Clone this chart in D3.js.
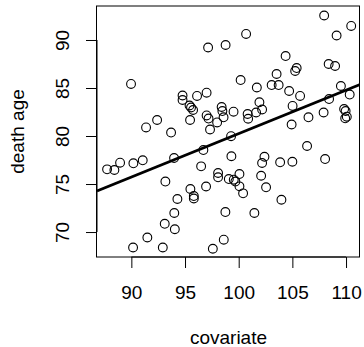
<!DOCTYPE html>
<html>
<head>
<meta charset="utf-8">
<script src="https://cdn.jsdelivr.net/npm/d3@7"></script>
<style>
  html, body { margin: 0; padding: 0; background: #fff; }
  svg { display: block; font-family: "Liberation Sans", Arial, Helvetica, sans-serif; }
  text { fill: #000; }
</style>
</head>
<body>
<svg id="chart"></svg>
<script>

var width = 364,
    height = 347,
    margin = {top: 6, right: 4, bottom: 90, left: 97};

var covariate = [
  89.97, 94.77, 94.77, 96.12, 97.01, 95.42, 95.56, 95.75, 95.47, 92.40,
  91.37, 93.70, 97.01, 97.19, 97.33, 97.99, 97.15, 98.78, 100.69, 100.18,
  101.69, 103.07, 103.72, 103.53, 104.37, 105.40, 105.26, 104.70, 105.72, 105.02,
  106.50, 104.93, 106.37, 107.96, 109.12, 110.48, 108.38, 108.98, 109.52, 110.34,
  108.42, 107.91, 109.82, 109.96, 109.92, 110.07, 98.41, 98.48, 98.59, 99.52,
  100.83, 100.88, 101.62, 101.93, 102.18, 99.29, 96.71, 99.32, 102.40, 102.18,
  96.50, 98.08, 98.08, 100.07, 102.09, 99.08, 99.54, 99.69, 100.07, 100.41,
  102.55, 95.50, 96.96, 95.82, 95.82, 98.76, 101.46, 98.61, 97.59, 103.86,
  105.00, 108.05, 103.98, 87.74, 88.42, 88.95, 90.19, 91.06, 93.98, 93.17,
  94.29, 94.00, 93.11, 94.05, 91.49, 90.16, 92.93
];

var deathAge = [
  85.42, 84.22, 83.75, 84.17, 84.51, 83.18, 82.97, 82.71, 81.67, 81.67,
  80.89, 80.36, 82.14, 81.82, 80.68, 81.41, 89.22, 89.48, 90.63, 85.83,
  85.05, 85.31, 85.31, 86.46, 88.33, 87.08, 86.77, 84.69, 84.17, 83.13,
  81.95, 81.20, 78.96, 92.55, 90.47, 91.46, 87.50, 87.29, 85.21, 84.32,
  83.85, 82.45, 82.81, 82.60, 81.84, 82.01, 83.02, 82.60, 81.95, 82.53,
  82.29, 81.80, 82.45, 83.51, 82.76, 79.98, 78.54, 77.89, 77.84, 77.19,
  76.84, 76.15, 75.70, 76.04, 75.86, 75.52, 75.45, 75.26, 74.76, 74.03,
  74.66, 74.48, 74.74, 73.75, 73.49, 72.08, 71.98, 69.20, 68.26, 77.26,
  77.32, 77.60, 73.36, 76.53, 76.46, 77.22, 77.16, 77.47, 77.71, 75.26,
  73.44, 71.98, 70.86, 70.29, 69.43, 68.39, 68.39
];

// fitted line: deathAge = a + b * covariate
var fitIntercept = 35.0,
    fitSlope = 0.4525;

var xLim = [86.8, 111.3],
    yLim = [67.4, 93.54];

var xTicks = [90, 95, 100, 105, 110],
    yTicks = [70, 75, 80, 85, 90];

var xLabel = 'covariate',
    yLabel = 'death age';

var points = covariate.map(function(d, i) { return {x: d, y: deathAge[i]}; });

var svg = d3.select('#chart')
    .attr('width', width)
    .attr('height', height);

var x = d3.scaleLinear()
    .domain(xLim)
    .range([margin.left, width - margin.right]);

var y = d3.scaleLinear()
    .domain(yLim)
    .range([height - margin.bottom, margin.top]);

var lineH = 22.8;

// axes
var xAxis = svg.append('g')
    .attr('transform', 'translate(0,' + (height - margin.bottom) + ')')
    .call(d3.axisBottom(x).tickValues(xTicks).tickSize(11).tickPadding(0).tickSizeOuter(0));

xAxis.select('.domain')
    .attr('d', 'M' + x(xTicks[0]) + ',0H' + x(xTicks[xTicks.length - 1]));

xAxis.selectAll('.tick text')
    .attr('y', 1.8 * lineH + 1)
    .attr('dy', null)
    .attr('font-size', 19)
    .attr('font-family', null);

var yAxis = svg.append('g')
    .attr('transform', 'translate(' + margin.left + ',0)')
    .call(d3.axisLeft(y).tickValues(yTicks).tickSize(11).tickPadding(0).tickSizeOuter(0));

yAxis.select('.domain')
    .attr('d', 'M0,' + y(yTicks[0]) + 'V' + y(yTicks[yTicks.length - 1]));

yAxis.selectAll('.tick text')
    .attr('x', null)
    .attr('dy', null)
    .attr('transform', 'translate(' + (-1.2 * lineH - 1) + ',0) rotate(-90)')
    .attr('text-anchor', 'middle')
    .attr('font-size', 19)
    .attr('font-family', null);

svg.selectAll('.domain, .tick line')
    .attr('stroke', '#000')
    .attr('stroke-width', 1);

// box
svg.append('rect')
    .attr('x', margin.left - 0.5)
    .attr('y', margin.top)
    .attr('width', width - margin.left - margin.right)
    .attr('height', height - margin.top - margin.bottom)
    .attr('fill', 'none')
    .attr('stroke', '#000')
    .attr('stroke-width', 1);

// axis titles
svg.append('text')
    .attr('x', (margin.left + width - margin.right) / 2)
    .attr('y', height - margin.bottom + 3.8 * lineH)
    .attr('text-anchor', 'middle')
    .attr('font-size', 19)
    .text(xLabel);

svg.append('text')
    .attr('transform', 'translate(' + (margin.left - 3.2 * lineH) + ',' + ((margin.top + height - margin.bottom) / 2) + ') rotate(-90)')
    .attr('text-anchor', 'middle')
    .attr('font-size', 19)
    .text(yLabel);

// points
svg.append('g')
    .selectAll('circle')
    .data(points)
    .enter().append('circle')
    .attr('cx', function(d) { return x(d.x); })
    .attr('cy', function(d) { return y(d.y); })
    .attr('r', 4.4)
    .attr('fill', 'none')
    .attr('stroke', '#000')
    .attr('stroke-width', 1.1);

// regression line, clipped to plot region
svg.append('clipPath')
    .attr('id', 'plotclip')
    .append('rect')
    .attr('x', margin.left)
    .attr('y', margin.top)
    .attr('width', width - margin.left - margin.right)
    .attr('height', height - margin.top - margin.bottom);

var fit = xLim.map(function(v) { return {x: v, y: fitIntercept + fitSlope * v}; });

svg.append('path')
    .datum(fit)
    .attr('clip-path', 'url(#plotclip)')
    .attr('d', d3.line().x(function(d) { return x(d.x); }).y(function(d) { return y(d.y); }))
    .attr('fill', 'none')
    .attr('stroke', '#000')
    .attr('stroke-width', 2.6);

</script>
</body>
</html>
